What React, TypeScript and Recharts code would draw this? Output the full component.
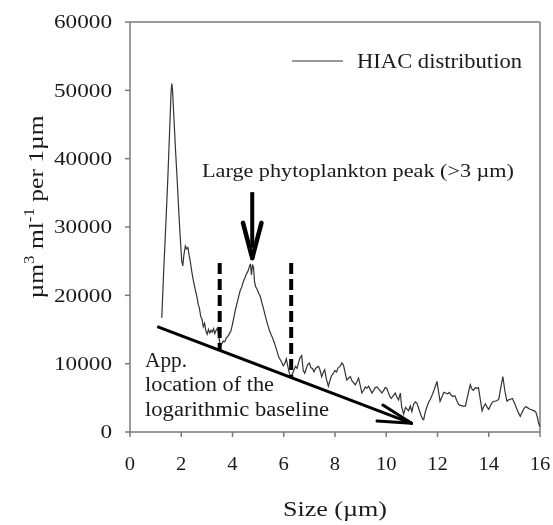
import React from 'react';
import { LineChart, Line, XAxis, YAxis, ReferenceLine, ReferenceDot, Legend } from 'recharts';

// ---- data ----
const sizes = [
  1.24, 1.32, 1.40, 1.48, 1.55, 1.60, 1.63, 1.66, 1.72, 1.78, 1.84, 1.90, 1.96, 2.02, 2.06,
  2.10, 2.16, 2.21, 2.26, 2.31, 2.36, 2.41, 2.46, 2.51, 2.56, 2.61, 2.66, 2.71, 2.76, 2.81,
  2.86, 2.91, 2.96, 3.01, 3.06, 3.11, 3.16, 3.21, 3.26, 3.31, 3.36, 3.41, 3.46, 3.52, 3.58,
  3.64, 3.70, 3.76, 3.82, 3.88, 3.94, 4.00, 4.06, 4.12, 4.18, 4.24, 4.30, 4.36, 4.42, 4.48,
  4.54, 4.60, 4.66, 4.70, 4.74, 4.78, 4.82, 4.86, 4.90, 4.96, 5.02, 5.08, 5.14, 5.20, 5.26,
  5.32, 5.38, 5.44, 5.50, 5.56, 5.62, 5.68, 5.74, 5.80, 5.86, 5.92, 5.98, 6.04, 6.10, 6.16,
  6.22, 6.28, 6.34, 6.40, 6.46, 6.52, 6.58, 6.64, 6.70, 6.76, 6.82, 6.88, 6.94, 7.00, 7.06,
  7.12, 7.18, 7.24, 7.30, 7.36, 7.42, 7.48, 7.54, 7.60, 7.66, 7.74, 7.80, 7.86, 7.94, 8.00,
  8.06, 8.12, 8.20, 8.27, 8.33, 8.40, 8.46, 8.53, 8.60, 8.66, 8.73, 8.79, 8.86, 8.92, 8.98,
  9.05, 9.12, 9.18, 9.25, 9.31, 9.38, 9.44, 9.51, 9.57, 9.64, 9.70, 9.77, 9.83, 9.90, 9.96,
  10.02, 10.08, 10.14, 10.20, 10.27, 10.35, 10.42, 10.48, 10.55, 10.60, 10.68, 10.75, 10.82, 10.87, 10.94,
  11.00, 11.07, 11.14, 11.20, 11.27, 11.35, 11.42, 11.46, 11.52, 11.60, 11.66, 11.72, 11.80, 11.88, 11.98,
  12.04, 12.10, 12.18, 12.25, 12.32, 12.40, 12.46, 12.53, 12.60, 12.68, 12.75, 12.83, 12.90, 13.00, 13.09,
  13.16, 13.22, 13.28, 13.34, 13.40, 13.48, 13.54, 13.60, 13.66, 13.74, 13.80, 13.87, 13.94, 14.00, 14.06,
  14.13, 14.19, 14.26, 14.33, 14.39, 14.47, 14.55, 14.63, 14.71, 14.78, 14.85, 14.92, 15.00, 15.08, 15.16,
  15.23, 15.30, 15.37, 15.43, 15.50, 15.57, 15.64, 15.70, 15.78, 15.84, 15.90, 15.95, 16.00,
];

const volumes = [
  16700, 24000, 30500, 37500, 44500, 49500, 51000, 50000, 45500, 41000, 37000, 32500, 28500, 25000, 24300,
  25800, 27200, 26800, 27000, 25800, 24800, 23500, 22400, 21500, 20600, 19800, 18700, 18100, 16900, 16500,
  15400, 15900, 14800, 14300, 15000, 14500, 14900, 14600, 15100, 14400, 14900, 15200, 14200, 12600, 12900,
  13300, 13200, 13800, 14000, 14400, 14800, 15800, 16900, 18000, 18900, 19800, 20700, 21200, 22000, 22500,
  23100, 23500, 24200, 24600, 23000, 24500, 24100, 22000, 21300, 20900, 20300, 19900, 19000, 18200, 17300,
  16400, 15600, 14900, 14300, 13800, 13200, 12500, 11800, 11000, 10600, 10200, 9700, 10000, 10700, 9600,
  8600, 8100, 8500, 9100, 9600, 9300, 10200, 10900, 11200, 9000, 8600, 9300, 9900, 10100, 9400,
  9300, 8800, 9300, 9500, 9600, 9000, 8100, 8700, 9100, 7800, 6700, 7500, 8200, 8600, 9000,
  8800, 9400, 9600, 10100, 9800, 8600, 7600, 7900, 8100, 7500, 7200, 6900, 7400, 7900, 6900,
  5700, 6100, 6600, 6400, 6700, 6200, 5700, 6100, 6500, 6600, 6300, 6000, 5700, 6100, 6500,
  6400, 5800, 5200, 4900, 5300, 5700, 5100, 4700, 5700, 3700, 2600, 3600, 3300, 3100, 3800,
  3000, 4100, 4400, 4200, 3400, 2500, 1900, 1800, 2900, 3800, 4400, 4800, 5500, 6300, 7400,
  5900, 4500, 5200, 5800, 5700, 5600, 5800, 5400, 5200, 5300, 4600, 4000, 3900, 3800, 3800,
  5000, 6000, 6900, 6300, 6100, 6500, 6400, 6500, 5000, 3100, 3700, 4100, 3600, 3300, 3800,
  4300, 4500, 4500, 4600, 4800, 6500, 8100, 6000, 4500, 4700, 4800, 4900, 4300, 3500, 2800,
  2300, 2900, 3400, 3700, 3600, 3400, 3300, 3200, 3100, 2900, 2100, 1200, 800,
];

const xTicks = [0, 2, 4, 6, 8, 10, 12, 14, 16];
const yTicks = [0, 10000, 20000, 30000, 40000, 50000, 60000];

const seriesName = 'HIAC distribution';
const xTitle = 'Size (µm)';
const peakText = 'Large phytoplankton peak (>3 µm)';
const baselineText = ['App.', 'location of the', 'logarithmic baseline'];

// annotation geometry in data coordinates
const baselineStart = { x: 1.065, y: 15410 };
const baselineEnd = { x: 10.99, y: 1270 };
const baselineBarbs = [{ x: 9.87, y: 3950 }, { x: 9.64, y: 1610 }];
const peakArrowX = 4.77;
const peakArrowTop = 35100;
const peakArrowTip = 25460;
const peakArrowBarbs = [{ x: 4.41, y: 30600 }, { x: 5.13, y: 30600 }];
const windowLines = [
  { x: 3.5, top: 24730, bottom: 12000 },
  { x: 6.29, top: 24730, bottom: 8000 },
];
const peakTextAt = { x: 2.81, y: 37330 };
const baselineTextAt = { x: 0.586, y: 9560 };

const data = sizes.map((s, i) => ({ size: s, volume: volumes[i] }));

const FONT = "'Liberation Serif', 'Times New Roman', serif";
const INK = '#1a1a1a';
const AXIS = '#7a7a7a';
const tstyle = { fontFamily: FONT };

const YTick = (props: any) => {
  const { x, y, payload } = props;
  const s = String(payload.value);
  return (
    <text x={x} y={y} dy="0.36em" textAnchor="end" style={tstyle} fontSize={18} fill={INK}
      textLength={s.length * 11.6} lengthAdjust="spacingAndGlyphs">{s}</text>
  );
};

const XTick = (props: any) => {
  const { x, y, payload } = props;
  const s = String(payload.value);
  return (
    <text x={x} y={y} dy={13} textAnchor="middle" style={tstyle} fontSize={19.5} fill={INK}
      textLength={s.length * 10.3} lengthAdjust="spacingAndGlyphs">{s}</text>
  );
};

const XTitle = (props: any) => {
  const vb = props.viewBox || { x: 130, y: 432, width: 410, height: 93 };
  return (
    <text x={vb.x + vb.width / 2} y={vb.y + 84} textAnchor="middle" style={tstyle} fontSize={21}
      fill={INK} textLength={104} lengthAdjust="spacingAndGlyphs">{xTitle}</text>
  );
};

const YTitle = (props: any) => {
  const vb = props.viewBox || { x: 0, y: 22, width: 130, height: 410 };
  const cx = vb.x + 43;
  const cy = vb.y + vb.height / 2 - 20;
  return (
    <text x={cx} y={cy} transform={`rotate(-90 ${cx} ${cy})`} textAnchor="middle" style={tstyle}
      fontSize={21} fill={INK} textLength={183} lengthAdjust="spacingAndGlyphs">
      <tspan>µm</tspan>
      <tspan dy={-9} fontSize={14}>3</tspan>
      <tspan dy={9}> ml</tspan>
      <tspan dy={-9} fontSize={14}>-1</tspan>
      <tspan dy={9}> per 1µm</tspan>
    </text>
  );
};

const LegendContent = (props: any) => {
  const label = props.payload && props.payload[0] ? props.payload[0].value : seriesName;
  return (
    <svg width={240} height={30} style={{ display: 'block' }}>
      <line x1={0} y1={13} x2={51} y2={13} stroke="#333" strokeWidth={1.2} />
      <text x={65} y={19.5} style={tstyle} fontSize={20} fill={INK} textLength={165}
        lengthAdjust="spacingAndGlyphs">{label}</text>
    </svg>
  );
};

const PeakLabel = (p: any) => (
  <text x={p.cx} y={p.cy} style={tstyle} fontSize={19} fill={INK} textLength={312}
    lengthAdjust="spacingAndGlyphs">{peakText}</text>
);

const lineWidths = [42, 129, 184];
const BaselineLabel = (p: any) => (
  <g>
    {baselineText.map((t, i) => (
      <text key={t} x={p.cx} y={p.cy + i * 24.7} style={tstyle} fontSize={20} fill={INK}
        textLength={lineWidths[i]} lengthAdjust="spacingAndGlyphs">{t}</text>
    ))}
  </g>
);

export default function App() {
  return (
    <div style={{ position: 'fixed', left: 0, top: 0, width: 553, height: 525 }}>
      <LineChart width={553} height={525} data={data} margin={{ top: 22, right: 13, bottom: 0, left: 0 }}>
        <XAxis dataKey="size" type="number" domain={[0, 16]} ticks={xTicks} interval={0}
          axisLine={{ stroke: AXIS, strokeWidth: 1.5 }} tickLine={{ stroke: AXIS, strokeWidth: 1.5 }}
          tickSize={5} tickMargin={20} height={93} tick={<XTick />} label={<XTitle />} />
        <YAxis type="number" domain={[0, 60000]} ticks={yTicks} interval={0} width={130}
          axisLine={{ stroke: AXIS, strokeWidth: 1.5 }} tickLine={{ stroke: AXIS, strokeWidth: 1.5 }}
          tickSize={5} tickMargin={13} tick={<YTick />} label={<YTitle />} />
        <ReferenceLine y={60000} stroke={AXIS} strokeWidth={1.5} />
        <ReferenceLine x={16} stroke={AXIS} strokeWidth={1.5} />
        <Legend verticalAlign="middle" align="center" layout="horizontal" content={<LegendContent />}
          wrapperStyle={{ left: 292, top: 48, width: 240, height: 30 }} />
        <Line type="linear" dataKey="volume" name={seriesName} stroke="#333" strokeWidth={1.2}
          dot={false} isAnimationActive={false} />
        {windowLines.map((w) => (
          <ReferenceLine key={w.x} segment={[{ x: w.x, y: w.top }, { x: w.x, y: w.bottom }]}
            stroke="#000" strokeWidth={4} strokeDasharray="11 5" ifOverflow="visible" />
        ))}
        <ReferenceLine segment={[baselineStart, baselineEnd]} stroke="#000" strokeWidth={3} ifOverflow="visible" />
        {baselineBarbs.map((b, i) => (
          <ReferenceLine key={`bb${i}`} segment={[b, baselineEnd]} stroke="#000" strokeWidth={3}
            strokeLinecap="round" ifOverflow="visible" />
        ))}
        <ReferenceLine segment={[{ x: peakArrowX, y: peakArrowTop }, { x: peakArrowX, y: peakArrowTip + 1500 }]}
          stroke="#000" strokeWidth={4} ifOverflow="visible" />
        {peakArrowBarbs.map((b, i) => (
          <ReferenceLine key={`pb${i}`} segment={[b, { x: peakArrowX, y: peakArrowTip }]} stroke="#000"
            strokeWidth={4.5} strokeLinecap="round" ifOverflow="visible" />
        ))}
        <ReferenceDot x={peakTextAt.x} y={peakTextAt.y} r={0} shape={PeakLabel} ifOverflow="visible" />
        <ReferenceDot x={baselineTextAt.x} y={baselineTextAt.y} r={0} shape={BaselineLabel} ifOverflow="visible" />
      </LineChart>
    </div>
  );
}
